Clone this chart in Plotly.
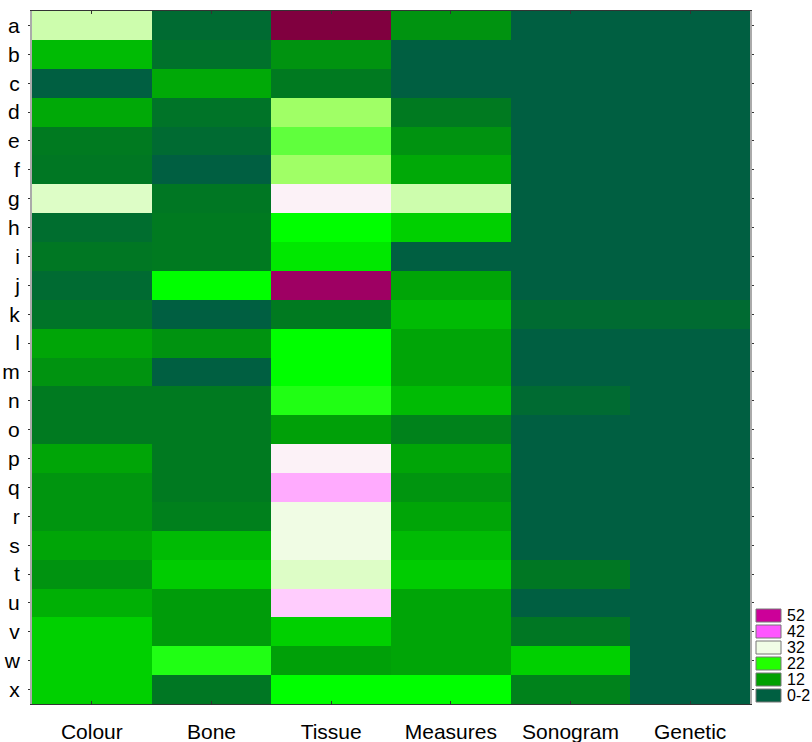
import plotly.graph_objects as go

# Rows and columns of the heat map
rows = list("abcdefghijklmnopqrstuvwx")
columns = ["Colour", "Bone", "Tissue", "Measures", "Sonogram", "Genetic"]

# One list of values per column, in row order a..x
colour = [29.8, 14.8, 1, 12.9, 7, 6.5, 30.8, 4.8, 6.5, 4.3, 5.8, 12.5, 10.3, 7, 7,
          12.5, 10.5, 10.5, 12.5, 10.3, 13.7, 17, 17, 17]
bone = [4.3, 5.3, 12.9, 5.8, 4.3, 1, 6.5, 7, 7, 22, 1, 10.3, 1, 7, 7,
        7, 7, 7.8, 14.8, 16.6, 11.5, 11.5, 23, 6.5]
tissue = [62, 10.3, 7, 27, 25, 27, 36, 22, 19.5, 58, 7, 22, 22, 23, 12,
          36, 39.5, 32, 32, 30.8, 38.3, 17, 12, 22]
measures = [10.3, 1, 1, 7, 10.3, 12.9, 29.8, 17, 1, 12.5, 14.8, 12.5, 12.5, 14.8, 8,
            12.5, 10.5, 12.5, 14.8, 16.6, 12.5, 12.5, 12.5, 22]
sonogram = [1, 1, 1, 1, 1, 1, 1, 1, 1, 1, 4.3, 1, 1, 4.3, 1,
            1, 1, 1, 1, 6.5, 1, 6.5, 17, 8]
genetic = [1] * 10 + [4.3] + [1] * 13

series = [colour, bone, tissue, measures, sonogram, genetic]
z = [[s[i] for s in series] for i in range(len(rows))]

# Continuous colour scale (value, colour)
scale_values = [0, 2, 7, 12, 17, 22, 27, 32, 37, 42, 52, 62]
scale_colors = ["#005f41", "#005f41", "#007a20", "#00a008", "#00d000", "#00ff00",
                "#a0ff66", "#f0fce4", "#fff0fc", "#ff66ff", "#cc0099", "#80003f"]
zmin, zmax = scale_values[0], scale_values[-1]
colorscale = [[(v - zmin) / (zmax - zmin), c] for v, c in zip(scale_values, scale_colors)]

# Discrete key shown at the lower right
legend_labels = ["52", "42", "32", "22", "12", "0-2"]
legend_colors = ["#cc0099", "#ff55ff", "#f0fde6", "#22ff00", "#00a000", "#005f41"]

font_family = "Arial, Liberation Sans, sans-serif"

fig = go.Figure(
    go.Heatmap(
        z=z, x=columns, y=rows,
        colorscale=colorscale, zmin=zmin, zmax=zmax,
        showscale=False, hoverinfo="x+y+z",
    )
)

W, H = 812, 742
margin = dict(l=32, r=62, t=11, b=38)
fig.update_layout(
    width=W, height=H, margin=margin,
    paper_bgcolor="white", plot_bgcolor="white",
    font=dict(family=font_family, size=21, color="black"),
    showlegend=False,
)
fig.update_xaxes(
    automargin=False,
    showline=True, linecolor="#333", linewidth=1, mirror="ticks",
    ticks="inside", ticklen=3, tickcolor="#333",
    ticklabelstandoff=9, tickfont=dict(size=21),
)
fig.update_yaxes(
    automargin=False, autorange="reversed",
    showline=True, linecolor="#aaa", linewidth=2, mirror="ticks",
    ticks="outside", ticklen=2, tickcolor="#333",
    ticklabelstandoff=4, tickfont=dict(size=21),
)

# Key boxes and labels, placed in paper units just right of the plot area
plot_w = W - margin["l"] - margin["r"]
plot_h = H - margin["t"] - margin["b"]
box_x0 = 1 + 6 / plot_w
box_x1 = 1 + 31 / plot_w
step = 16 / plot_h
box_h = 13 / plot_h
shapes = []
annotations = []
n = len(legend_labels)
for i, (lab, col) in enumerate(zip(legend_labels, legend_colors)):
    y_top = (n - i) * step - 1 / plot_h
    y_bot = y_top - box_h
    shapes.append(dict(
        type="rect", xref="paper", yref="paper",
        x0=box_x0, x1=box_x1, y0=y_bot, y1=y_top,
        fillcolor=col, line=dict(color="#777", width=1),
    ))
    annotations.append(dict(
        xref="paper", yref="paper", x=box_x1 + 4 / plot_w, y=(y_top + y_bot) / 2,
        text=lab, showarrow=False, xanchor="left", yanchor="middle",
        font=dict(size=16, family=font_family, color="black"),
    ))
fig.update_layout(shapes=shapes, annotations=annotations)

fig.write_html("out.html")
